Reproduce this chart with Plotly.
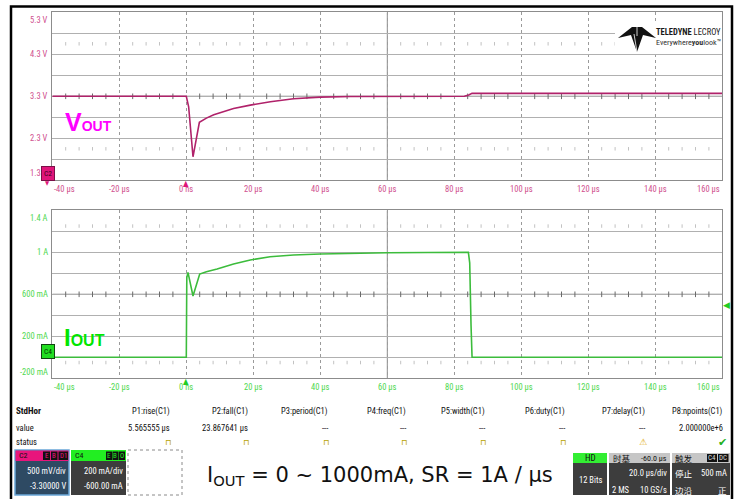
import plotly.graph_objects as go
import numpy as np

W, H = 740, 499
def px(x): return x / W
def py(y): return 1 - y / H

# ---------------- data ----------------
vout_time_us = [-40, 0, 0.7, 2.0, 3.9, 6, 8.2, 11, 14.1, 19.1, 25.1, 32, 40, 49, 60, 83.0, 84.3, 85.3, 160]
vout_v = [3.30, 3.30, 3.05, 1.86, 2.68, 2.78, 2.86, 2.94, 3.01, 3.09, 3.17, 3.24, 3.28, 3.295, 3.30, 3.30, 3.33, 3.37, 3.37]

iout_time_us = [-40, 0, 0.15, 0.5, 2.0, 4.0, 6, 9.2, 14.1, 19.1, 25, 32, 40, 49, 60, 84.2, 84.6, 85.0, 85.3, 160]
iout_ma = [0, 0, 760, 809, 584, 793, 815, 841, 889, 927, 958, 974, 984, 990, 996, 1000, 900, 300, 0, 0]

time_ticks = [-40, -20, 0, 20, 40, 60, 80, 100, 120, 140, 160]
time_labels = ["-40 µs", "-20 µs", "0 ns", "20 µs", "40 µs", "60 µs", "80 µs", "100 µs", "120 µs", "140 µs", "160 µs"]
v_ticks = [5.3, 4.3, 3.3, 2.3, 1.3]
v_labels = ["5.3 V", "4.3 V", "3.3 V", "2.3 V", "1.3 V"]
i_ticks = [1400, 1000, 600, 200, -200]
i_labels = ["1.4 A", "1 A", "600 mA", "200 mA", "-200 mA"]

param_names = ["P1:rise(C1)", "P2:fall(C1)", "P3:period(C1)", "P4:freq(C1)", "P5:width(C1)",
               "P6:duty(C1)", "P7:delay(C1)", "P8:npoints(C1)"]
param_values = ["5.565555 µs", "23.867641 µs", "---", "---", "---", "---", "---", "2.000000e+6"]
param_status = ["pulse", "pulse", "pulse", "pulse", "pulse", "pulse", "warn", "ok"]

trigger_level_ma = 500
# --------------------------------------

NARROW = "Liberation Sans Narrow, Arial Narrow, Roboto Condensed, DejaVu Sans Condensed, Liberation Sans, sans-serif"
CJK = "Noto Sans CJK SC, sans-serif"
VCOL = "#b0226a"
ICOL = "#3cbc3c"
VLAB = "#d0508e"
ILAB = "#4fd84f"

fig = go.Figure()

# decorative minor tick marks on graticule
minor_t = [t for t in np.arange(-40, 160.1, 4) if abs(t % 20) > 1e-6]
for (xa, ya, yc, yr1, yr2) in [("x", "y", 3.3, 4.55, 2.05), ("x2", "y2", 600, 1250, -50)]:
    fig.add_trace(go.Scatter(x=minor_t, y=[yc] * len(minor_t), mode="markers", xaxis=xa, yaxis=ya,
                             marker=dict(symbol="line-ns", size=4, line=dict(width=1, color="#6a6a6a")),
                             hoverinfo="skip", showlegend=False))
    fig.add_trace(go.Scatter(x=minor_t * 2, y=[yr1] * len(minor_t) + [yr2] * len(minor_t), mode="markers",
                             xaxis=xa, yaxis=ya,
                             marker=dict(symbol="line-ns", size=2.5, line=dict(width=1, color="#c2c2c2")),
                             hoverinfo="skip", showlegend=False))

fig.add_trace(go.Scatter(x=vout_time_us, y=vout_v, mode="lines", line=dict(color=VCOL, width=1.6),
                         xaxis="x", yaxis="y", hoverinfo="skip", showlegend=False))
fig.add_trace(go.Scatter(x=iout_time_us, y=iout_ma, mode="lines", line=dict(color=ICOL, width=1.6),
                         xaxis="x2", yaxis="y2", hoverinfo="skip", showlegend=False))

xdom = [px(52.3), px(722.3)]
axcommon = dict(showticklabels=False, ticks="", showline=True, mirror=True, linecolor="#8c8c8c",
                linewidth=1, zeroline=False, fixedrange=True)
fig.update_layout(
    width=W, height=H, autosize=False,
    margin=dict(l=0, r=0, t=0, b=0),
    paper_bgcolor="white", plot_bgcolor="white",
    showlegend=False,
    xaxis=dict(domain=xdom, range=[-40, 160], dtick=20, tick0=-40, showgrid=True, gridcolor="#9a9a9a",
               griddash="dot", anchor="y", **axcommon),
    yaxis=dict(domain=[py(180.3), py(12.3)], range=[1.3, 5.3], dtick=0.5, tick0=1.3, showgrid=True,
               gridcolor="#b0b0b0", anchor="x", **axcommon),
    xaxis2=dict(domain=xdom, range=[-40, 160], dtick=20, tick0=-40, showgrid=True, gridcolor="#9a9a9a",
                griddash="dot", anchor="y2", **axcommon),
    yaxis2=dict(domain=[py(378.3), py(210.3)], range=[-200, 1400], dtick=200, tick0=-200, showgrid=True,
                gridcolor="#b0b0b0", anchor="x2", **axcommon),
)

shapes = []
# center graticule lines
shapes.append(dict(type="line", xref="x", yref="y", x0=60, x1=60, y0=1.3, y1=5.3, line=dict(color="#8c8c8c", width=1), layer="below"))
shapes.append(dict(type="line", xref="x", yref="y", x0=-40, x1=160, y0=3.3, y1=3.3, line=dict(color="#5e5e5e", width=1), layer="below"))
shapes.append(dict(type="line", xref="x2", yref="y2", x0=60, x1=60, y0=-200, y1=1400, line=dict(color="#8c8c8c", width=1), layer="below"))
shapes.append(dict(type="line", xref="x2", yref="y2", x0=-40, x1=160, y0=600, y1=600, line=dict(color="#5e5e5e", width=1), layer="below"))

def rect(x0, y0, x1, y1, fill=None, line=None, width=1, dash=None):
    d = dict(type="rect", xref="paper", yref="paper", x0=px(x0), x1=px(x1), y0=py(y1), y1=py(y0),
             fillcolor=fill if fill else "rgba(0,0,0,0)",
             line=dict(color=line if line else "rgba(0,0,0,0)", width=width if line else 0), layer="above")
    if dash:
        d["line"]["dash"] = dash
    return d

# logo background + emblem
shapes.append(rect(615, 22, 722, 52, fill="white"))
pts = [(618, 38), (632, 27), (642, 27), (656, 38), (643, 35), (637, 52), (631, 35)]
path = "M " + " L ".join(f"{px(a):.5f},{py(b):.5f}" for a, b in pts) + " Z"
shapes.append(dict(type="path", xref="paper", yref="paper", path=path, fillcolor="#111", line=dict(width=0), layer="above"))
for a, b in [((637, 27), (637, 36)), ((634, 34), (637, 52))]:
    shapes.append(dict(type="line", xref="paper", yref="paper", x0=px(a[0]), y0=py(a[1]), x1=px(b[0]), y1=py(b[1]),
                       line=dict(color="white", width=0.8), layer="above"))

# bottom boxes
shapes.append(rect(15, 450, 69, 495, fill="#2e4a63", line="#6aa6d8", width=1.5))
shapes.append(rect(15.5, 450.5, 68.5, 461, fill="#e8157c"))
for a, b in [(43, 50), (51, 57.5), (58.5, 68)]:
    shapes.append(rect(a, 451.5, b, 460, fill="#111"))
shapes.append(rect(71, 450, 126, 495, fill="#3d3d3d"))
shapes.append(rect(71, 450, 126, 461, fill="#22ee22"))
for a, b in [(106, 112), (112.5, 118.5), (119, 125)]:
    shapes.append(rect(a, 451.5, b, 460, fill="#111"))
shapes.append(rect(128, 450, 182, 495, line="#8a8a8a", width=1, dash="dot"))

shapes.append(rect(573, 453, 607, 495, fill="#3d3d3d"))
shapes.append(rect(573, 453, 607, 463, fill="#33ee33"))
shapes.append(rect(609, 453, 670, 495, fill="#3d3d3d"))
shapes.append(rect(609, 453, 670, 463, fill="#c6c6c6"))
shapes.append(rect(672, 453, 730, 495, fill="#3d3d3d"))
shapes.append(rect(672, 453, 730, 463, fill="#c6c6c6"))
for a, b in [(707, 717), (718, 728.5)]:
    shapes.append(rect(a, 454, b, 462, fill="#111"))

# outer frame
shapes.append(rect(11, 6.5, 732, 510, line="#000000", width=2.5))
fig.update_layout(shapes=shapes)

ann = []
def txt(x, y, s, size=9, color="#222", xanchor="left", font=NARROW, xref="paper", yref="paper", yshift=0, **kw):
    a = dict(x=px(x) if xref == "paper" else x, y=py(y) if yref == "paper" else y, xref=xref, yref=yref,
             text=s, showarrow=False, xanchor=xanchor, yanchor="middle", yshift=yshift,
             font=dict(size=size, color=color, family=font))
    a.update(kw)
    ann.append(a)

TS = 8.5
# y tick labels
for i, (v, lab) in enumerate(zip(v_ticks, v_labels)):
    sh = -8 if i == 0 else (7 if i == len(v_ticks) - 1 else 0)
    txt(50, v, lab, size=TS, color=VLAB, xanchor="right", yref="y", yshift=sh)
for i, (v, lab) in enumerate(zip(i_ticks, i_labels)):
    sh = -8 if i == 0 else (6 if i == len(i_ticks) - 1 else 0)
    txt(50, v, lab, size=TS, color=ILAB, xanchor="right", yref="y2", yshift=sh)
# x tick labels
for i, (t, lab) in enumerate(zip(time_ticks, time_labels)):
    xa = "left" if i == 0 else ("right" if i == len(time_ticks) - 1 else "center")
    txt(t, 189, lab, size=TS, color=VLAB, xanchor=xa, xref="x")
    txt(t, 387, lab, size=TS, color=ILAB, xanchor=xa, xref="x2")

# trace labels
txt(63, 122, "<b>V<span style='font-size:14px'>OUT</span></b>", size=25, color="#ff00ff", font="Liberation Sans, Arial, sans-serif")
txt(62, 337, "<b>I<span style='font-size:16px'>OUT</span></b>", size=24, color="#00e600", font="Liberation Sans, Arial, sans-serif")

# channel / trigger markers
txt(48, 173, "C2", size=7.5, color="#3a0020", xanchor="center", bgcolor="#e0157a", bordercolor="#7a1048", borderpad=2, borderwidth=1)
txt(47.5, 182.5, "▼", size=6, color="#e0157a", xanchor="center")
txt(47.5, 351.5, "C4", size=7.5, color="#003300", xanchor="center", bgcolor="#22dd22", bordercolor="#114411", borderpad=2, borderwidth=1)
txt(0, 183, "▲", size=8, color="#e0157a", xanchor="center", xref="x")
txt(0, 381, "▲", size=8, color="#22cc22", xanchor="center", xref="x2")
txt(726.5, trigger_level_ma, "◀", size=9, color="#22cc22", xanchor="center", yref="y2", font="DejaVu Sans")

# logo text
txt(654, 31.5, "<b>TELEDYNE</b> LECROY", size=8.5, color="#1a1a1a")
txt(654, 43, "Everywhere<b>you</b>look™", size=8, color="#333")

# measurement table
FS = 8.5
txt(14, 411, "<b>StdHor</b>", size=9, color="#111")
txt(14, 427.5, "value", size=FS, color="#111")
txt(14, 442, "status", size=FS, color="#111")
col_right = [172, 250, 330, 408, 487, 567, 647, 725]
for xr, name, val, st in zip(col_right, param_names, param_values, param_status):
    txt(xr, 411, name, size=FS, color="#111", xanchor="right")
    txt(xr, 427.5, val, size=FS, color="#111", xanchor="right")
    if st == "pulse":
        txt(xr - 4, 442, "⊓", size=8, color="#b8a200", xanchor="center", font="DejaVu Sans")
    elif st == "warn":
        txt(xr - 4, 442, "⚠", size=9, color="#e0a800", xanchor="center", font="DejaVu Sans")
    else:
        txt(xr - 3, 442, "✔", size=11, color="#22b022", xanchor="center", font="DejaVu Sans")

# channel boxes
txt(17, 455.5, "C2", size=8, color="#111")
for (a, b), s in zip([(43, 50), (51, 57.5), (58.5, 68)], ["E", "B", "D1"]):
    txt((a + b) / 2, 455.5, s, size=7, color="#e8157c", xanchor="center")
txt(67.5, 471, "500 mV/div", size=8.5, color="white", xanchor="right")
txt(67.5, 486, "-3.30000 V", size=8.5, color="white", xanchor="right")
txt(73, 455.5, "C4", size=8, color="#111")
for (a, b), s in zip([(106, 112), (112.5, 118.5), (119, 125)], ["E", "B", "O"]):
    txt((a + b) / 2, 455.5, s, size=7, color="#22ee22", xanchor="center")
txt(125, 471, "200 mA/div", size=8.5, color="white", xanchor="right")
txt(125, 486, "-600.00 mA", size=8.5, color="white", xanchor="right")

txt(590, 458, "HD", size=9, color="#111", xanchor="center")
txt(590, 480, "12 Bits", size=8.5, color="white", xanchor="center")
txt(611, 458, "时基", size=8.5, color="#111", font=CJK)
txt(669, 458, "-60.0 µs", size=8, color="#111", xanchor="right")
txt(669, 473, "20.0 µs/div", size=8.5, color="white", xanchor="right")
txt(610, 490, "2 MS", size=8.5, color="white")
txt(669, 490, "10 GS/s", size=8.5, color="white", xanchor="right")
txt(673, 458, "触发", size=8.5, color="#111", font=CJK)
txt(712, 458, "C4", size=7, color="#dddddd", xanchor="center")
txt(723.3, 458, "DC", size=7, color="#dddddd", xanchor="center")
txt(673, 473, "停止", size=8.5, color="white", font=CJK)
txt(729, 473, "500 mA", size=8.5, color="white", xanchor="right")
txt(673, 490, "边沿", size=8.5, color="white", font=CJK)
txt(729, 490, "正", size=8.5, color="white", xanchor="right", font=CJK)

# big caption
txt(205, 476, "I<sub>OUT</sub> = 0 ~ 1000mA, SR = 1A / µs", size=21, color="#111",
    font="DejaVu Sans, Liberation Sans, sans-serif")

fig.update_layout(annotations=ann)
fig.write_html("out.html", config={"displayModeBar": False},
               post_script="document.body.style.margin='0px';document.body.style.padding='0px';document.body.style.overflow='hidden';")
